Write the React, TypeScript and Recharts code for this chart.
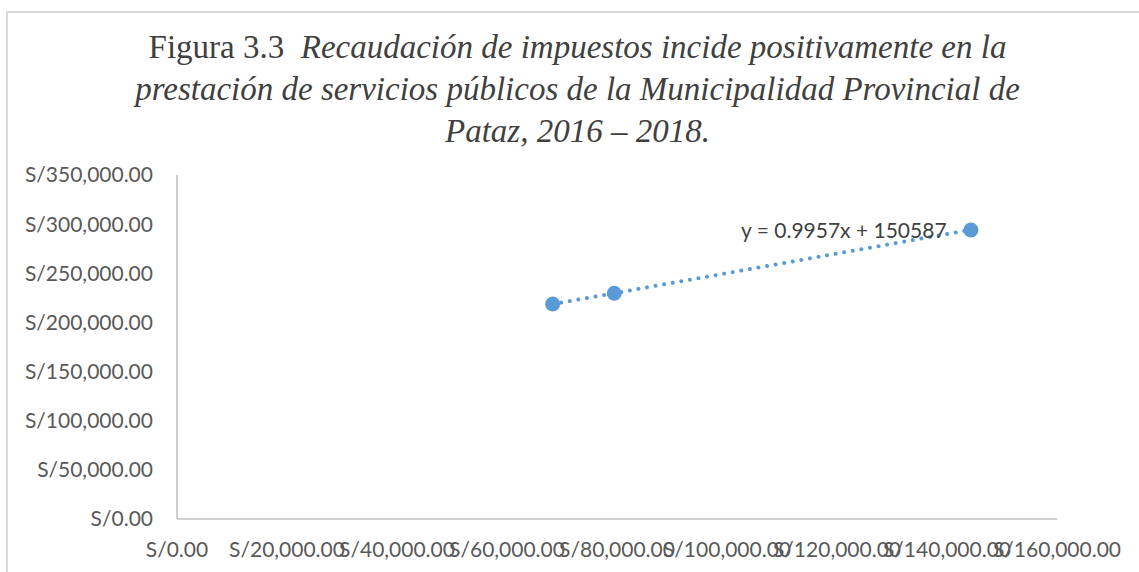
import { ScatterChart, Scatter, XAxis, YAxis, ReferenceLine } from "recharts";

// recaudación (x) vs prestación de servicios (y)
const recaudacion = [68300, 79500, 144350];
const servicios = [218700, 229700, 294000];

const xTicks = [0, 20000, 40000, 60000, 80000, 100000, 120000, 140000, 160000];
const yTicks = [0, 50000, 100000, 150000, 200000, 250000, 300000, 350000];

// linear trendline as printed on the chart
const trendSlope = 0.9957;
const trendIntercept = 150587;
const trendLabel = "y = 0.9957x + 150587";

const points = recaudacion.map((x, i) => ({ x, y: servicios[i] }));
const xMin = Math.min(...recaudacion);
const xMax = Math.max(...recaudacion);

const soles = (v: number) =>
  "S/" + v.toLocaleString("en-US", { minimumFractionDigits: 2, maximumFractionDigits: 2 });

const tickFont = { fill: "#595959", fontSize: 21, fontFamily: "Lato, sans-serif" };

const Dot = (props: any) => <circle cx={props.cx} cy={props.cy} r={7.5} fill="#5b9bd5" />;

export default function App() {
  return (
    <div
      style={{
        position: "absolute",
        left: 0,
        top: 0,
        width: 1139,
        height: 572,
        background: "#fff",
        overflow: "hidden",
      }}
    >
      <div
        style={{
          position: "absolute",
          left: 6,
          top: 11,
          width: 1200,
          height: 600,
          borderLeft: "2px solid #d9d9d9",
          borderTop: "2px solid #d9d9d9",
        }}
      />
      <div
        style={{
          position: "absolute",
          left: 0,
          top: 26,
          width: 1155,
          textAlign: "center",
          fontFamily: "'Times New Roman', 'Liberation Serif', Tinos, serif",
          fontSize: 33,
          lineHeight: "42px",
          color: "#404040",
        }}
      >
        Figura 3.3&nbsp;&nbsp;<i>Recaudación de impuestos incide positivamente en la</i>
        <br />
        <i>prestación de servicios públicos de la Municipalidad Provincial de</i>
        <br />
        <i>Pataz, 2016 – 2018.</i>
      </div>
      <ScatterChart
        width={1139}
        height={572}
        margin={{ top: 175, right: 82, bottom: 3, left: 7 }}
        style={{ position: "absolute", left: 0, top: 0 }}
      >
        <XAxis
          type="number"
          dataKey="x"
          domain={[0, 160000]}
          ticks={xTicks}
          tickFormatter={soles}
          tick={tickFont}
          axisLine={{ stroke: "#bfbfbf", strokeWidth: 1.5 }}
          tickLine={false}
          tickSize={0}
          tickMargin={23}
          height={50}
          interval={0}
        />
        <YAxis
          type="number"
          dataKey="y"
          domain={[0, 350000]}
          ticks={yTicks}
          tickFormatter={soles}
          tick={tickFont}
          axisLine={{ stroke: "#bfbfbf", strokeWidth: 1.5 }}
          tickLine={false}
          tickSize={0}
          tickMargin={24}
          width={170}
          interval={0}
        />
        <ReferenceLine
          segment={[
            { x: xMin, y: trendSlope * xMin + trendIntercept },
            { x: xMax, y: trendSlope * xMax + trendIntercept },
          ]}
          stroke="#5b9bd5"
          strokeWidth={4}
          strokeDasharray="0.01 8.7"
          strokeLinecap="round"
          ifOverflow="visible"
        />
        <Scatter data={points} isAnimationActive={false} shape={Dot} />
      </ScatterChart>
      <div
        style={{
          position: "absolute",
          left: 741,
          top: 217,
          fontFamily: "Lato, sans-serif",
          fontSize: 21,
          color: "#404040",
          whiteSpace: "nowrap",
        }}
      >
        {trendLabel}
      </div>
    </div>
  );
}
